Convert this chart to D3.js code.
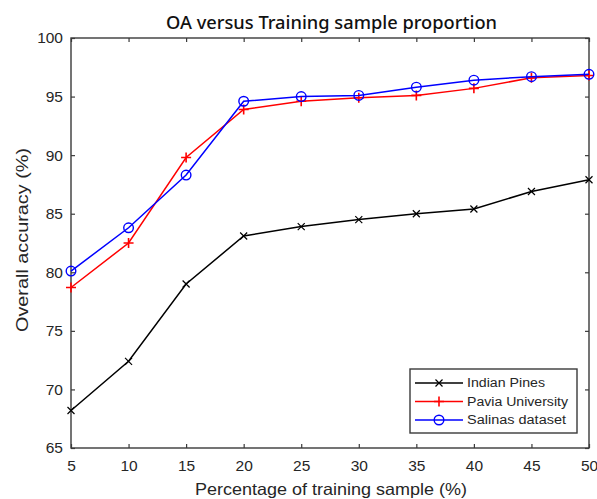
<!DOCTYPE html>
<html>
<head>
<meta charset="utf-8">
<script src="https://cdn.jsdelivr.net/npm/d3@7"></script>
<style>
  html, body { margin: 0; padding: 0; background: #fff; }
  svg { display: block; }
</style>
</head>
<body>
<svg id="chart" width="597" height="499"></svg>
<script>
// Training sample proportion (%)
const proportions = [5, 10, 15, 20, 25, 30, 35, 40, 45, 50];
// Overall accuracy (%) for each dataset
const indianPines = [68.2, 72.4, 79.0, 83.1, 83.9, 84.5, 85.0, 85.4, 86.9, 87.9];
const paviaUniversity = [78.7, 82.5, 89.8, 93.9, 94.6, 94.9, 95.1, 95.7, 96.6, 96.8];
const salinasDataset = [80.1, 83.8, 88.3, 94.6, 95.0, 95.1, 95.8, 96.4, 96.7, 96.9];
const seriesNames = ["Indian Pines", "Pavia University", "Salinas dataset"];
const xTicks = [5, 10, 15, 20, 25, 30, 35, 40, 45, 50];
const yTicks = [65, 70, 75, 80, 85, 90, 95, 100];

const series = [
  { name: seriesNames[0], values: indianPines, color: "#000000", marker: "x", textW: 78 },
  { name: seriesNames[1], values: paviaUniversity, color: "#ff0000", marker: "plus", textW: 101 },
  { name: seriesNames[2], values: salinasDataset, color: "#0000ff", marker: "circle", textW: 99 }
];

const svg = d3.select("#chart");
const m = { left: 71, top: 38, right: 589, bottom: 448 };

const x = d3.scaleLinear().domain([5, 50]).range([m.left, m.right]);
const y = d3.scaleLinear().domain([65, 100]).range([m.bottom, m.top]);

const axisColor = "#3a3a3a";
const textColor = "#262626";
const tickFont = "'Liberation Sans', Arial, sans-serif";

// Frame
svg.append("rect")
  .attr("x", m.left).attr("y", m.top)
  .attr("width", m.right - m.left).attr("height", m.bottom - m.top)
  .attr("fill", "none").attr("stroke", axisColor).attr("stroke-width", 1.4);

// Axes with inward ticks
function styleAxis(g) {
  g.select(".domain").remove();
  g.selectAll(".tick line").attr("stroke", axisColor).attr("stroke-width", 1.2);
  g.selectAll(".tick text").attr("fill", textColor).attr("font-family", tickFont).attr("font-size", 15.5);
}
svg.append("g").attr("transform", `translate(0,${m.bottom})`)
  .call(d3.axisBottom(x).tickValues(xTicks).tickSize(-4).tickPadding(12).tickFormat(d3.format("d")))
  .call(styleAxis);
svg.append("g").attr("transform", `translate(0,${m.top})`)
  .call(d3.axisTop(x).tickValues(xTicks).tickSize(-4).tickFormat(""))
  .call(styleAxis);
svg.append("g").attr("transform", `translate(${m.left},0)`)
  .call(d3.axisLeft(y).tickValues(yTicks).tickSize(-4).tickPadding(8).tickFormat(d3.format("d")))
  .call(styleAxis);
svg.append("g").attr("transform", `translate(${m.right},0)`)
  .call(d3.axisRight(y).tickValues(yTicks).tickSize(-4).tickFormat(""))
  .call(styleAxis);

// Marker shapes
function drawMarker(g, type, cx, cy, color) {
  if (type === "x") {
    const s = 3.5;
    g.append("path").attr("d", `M${cx - s},${cy - s}L${cx + s},${cy + s}M${cx - s},${cy + s}L${cx + s},${cy - s}`)
      .attr("stroke", color).attr("stroke-width", 1.2).attr("fill", "none");
  } else if (type === "plus") {
    const s = 5;
    g.append("path").attr("d", `M${cx - s},${cy}L${cx + s},${cy}M${cx},${cy - s}L${cx},${cy + s}`)
      .attr("stroke", color).attr("stroke-width", 1.6).attr("fill", "none");
  } else {
    g.append("circle").attr("cx", cx).attr("cy", cy).attr("r", 4.8)
      .attr("stroke", color).attr("stroke-width", 1.4).attr("fill", "none");
  }
}

const line = d3.line().x((d, i) => x(proportions[i])).y(d => y(d));
series.forEach(s => {
  const g = svg.append("g");
  g.append("path").datum(s.values).attr("d", line)
    .attr("fill", "none").attr("stroke", s.color).attr("stroke-width", 1.5);
  s.values.forEach((v, i) => drawMarker(g, s.marker, x(proportions[i]), y(v), s.color));
});

// Legend
const lg = svg.append("g");
lg.append("rect").attr("x", 410).attr("y", 369).attr("width", 167).attr("height", 64)
  .attr("fill", "#fff").attr("stroke", axisColor).attr("stroke-width", 1.4);
series.forEach((s, i) => {
  const ly = 383 + i * 18.5;
  lg.append("line").attr("x1", 415).attr("x2", 463).attr("y1", ly).attr("y2", ly)
    .attr("stroke", s.color).attr("stroke-width", 1.4);
  drawMarker(lg, s.marker, 439, ly, s.color);
  lg.append("text").attr("x", 467).attr("y", ly).attr("dy", "0.35em")
    .attr("font-family", tickFont).attr("font-size", 12).attr("fill", textColor)
    .attr("textLength", s.textW).attr("lengthAdjust", "spacingAndGlyphs")
    .text(s.name);
});

// Title and axis labels
svg.append("text").attr("x", 331.5).attr("y", 29).attr("text-anchor", "middle")
  .attr("font-family", "'Noto Sans', 'Open Sans', sans-serif").attr("font-size", 17.5).attr("font-weight", 500)
  .attr("fill", "#111").attr("textLength", 331).attr("lengthAdjust", "spacingAndGlyphs")
  .text("OA versus Training sample proportion");
svg.append("text").attr("x", 331).attr("y", 495).attr("text-anchor", "middle")
  .attr("font-family", tickFont).attr("font-size", 16.5).attr("fill", textColor)
  .attr("textLength", 272).attr("lengthAdjust", "spacingAndGlyphs")
  .text("Percentage of training sample (%)");
svg.append("text").attr("transform", "translate(28,240) rotate(-90)").attr("text-anchor", "middle")
  .attr("font-family", tickFont).attr("font-size", 16.5).attr("fill", textColor)
  .attr("textLength", 184).attr("lengthAdjust", "spacingAndGlyphs")
  .text("Overall accuracy (%)");
</script>
</body>
</html>
